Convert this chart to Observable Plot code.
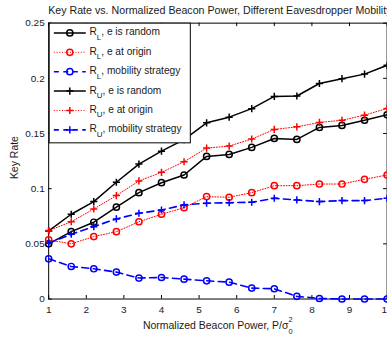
<!DOCTYPE html>
<html>
<head>
<meta charset="utf-8">
<script src="https://cdn.jsdelivr.net/npm/d3@7"></script>
<script src="https://cdn.jsdelivr.net/npm/@observablehq/plot@0.6"></script>
<style>
  html, body { margin: 0; padding: 0; background: white; overflow: hidden; }
  #chart { width: 387px; height: 337px; overflow: hidden; }
</style>
</head>
<body>
<div id="chart"></div>
<script>
// ---- data ----
const xValues = [1, 1.6, 2.2, 2.8, 3.4, 4, 4.6, 5.2, 5.8, 6.4, 7, 7.6, 8.2, 8.8, 9.4, 10];
const rlRandom   = [0.0500, 0.0611, 0.0696, 0.0832, 0.0964, 0.1054, 0.1124, 0.1292, 0.1310, 0.1374, 0.1455, 0.1446, 0.1555, 0.1573, 0.1620, 0.1670];
const rlOrigin   = [0.0536, 0.0500, 0.0566, 0.0610, 0.0700, 0.0768, 0.0828, 0.0928, 0.0922, 0.0964, 0.1027, 0.1027, 0.1042, 0.1042, 0.1085, 0.1124];
const rlMobility = [0.0364, 0.0295, 0.0274, 0.0244, 0.0190, 0.0195, 0.0180, 0.0165, 0.0153, 0.0099, 0.0093, 0.0024, 0.0005, 0.0000, 0.0000, 0.0000];
const ruRandom   = [0.0617, 0.0768, 0.0883, 0.1058, 0.1223, 0.1340, 0.1445, 0.1597, 0.1648, 0.1725, 0.1836, 0.1840, 0.1953, 0.1997, 0.2038, 0.2118];
const ruOrigin   = [0.0620, 0.0700, 0.0816, 0.0937, 0.1070, 0.1148, 0.1244, 0.1368, 0.1386, 0.1450, 0.1537, 0.1560, 0.1600, 0.1620, 0.1666, 0.1727];
const ruMobility = [0.0506, 0.0587, 0.0656, 0.0726, 0.0777, 0.0807, 0.0853, 0.0868, 0.0873, 0.0877, 0.0913, 0.0898, 0.0883, 0.0892, 0.0892, 0.0913];

const seriesKeys = ["RL, e is random", "RL, e at origin", "RL, mobility strategy", "RU, e is random", "RU, e at origin", "RU, mobility strategy"];
const seriesSub = ["L", "L", "L", "U", "U", "U"];
const seriesRest = [", e is random", ", e at origin", ", mobility strategy", ", e is random", ", e at origin", ", mobility strategy"];
const seriesValues = [rlRandom, rlOrigin, rlMobility, ruRandom, ruOrigin, ruMobility];

const xTicks = [1, 2, 3, 4, 5, 6, 7, 8, 9, 10];
const yTicks = [0, 0.05, 0.1, 0.15, 0.2, 0.25];

const titleText = "Key Rate vs. Normalized Beacon Power, Different Eavesdropper Mobility";
const xLabelText = "Normalized Beacon Power, P/σ";
const yLabelText = "Key Rate";

// ---- styles ----
const styles = [
  {stroke: "#000000", dash: null,    width: 1.5, marker: "circle"},
  {stroke: "#ff0000", dash: "1,1.7", width: 1,   marker: "circle"},
  {stroke: "#0000ff", dash: "7,4.5", width: 1.6, marker: "circle"},
  {stroke: "#000000", dash: null,    width: 1.5, marker: "plus"},
  {stroke: "#ff0000", dash: "1,1.7", width: 1,   marker: "plus"},
  {stroke: "#0000ff", dash: "7,4.5", width: 1.6, marker: "plus"}
];

const plusSymbol = {
  draw(ctx, size) {
    const r = Math.sqrt(size / Math.PI);
    ctx.moveTo(-r, 0); ctx.lineTo(r, 0);
    ctx.moveTo(0, -r); ctx.lineTo(0, r);
  }
};

const rows = [];
seriesKeys.forEach((k, i) => {
  xValues.forEach((x, j) => rows.push({series: k, x, y: seriesValues[i][j]}));
});

const W = 388, H = 337, mT = 22.7, mB = 37.7, mL = 48.3, mR = 0.4;
const frameH = H - mT - mB, frameW = W - mL - mR;
const tickLen = 3.5;
const FONT = "'Liberation Sans', Arial, Helvetica, sans-serif";

const dataMarks = [];
seriesKeys.forEach((k, i) => {
  const s = styles[i];
  const sub = rows.filter(d => d.series === k);
  dataMarks.push(Plot.line(sub, {x: "x", y: "y", stroke: s.stroke, strokeWidth: s.width, strokeDasharray: s.dash ?? undefined}));
  dataMarks.push(Plot.dot(sub, {
    x: "x", y: "y", stroke: s.stroke, fill: "none", strokeWidth: 1.5,
    r: s.marker === "plus" ? 3.6 : 3.1,
    symbol: s.marker === "plus" ? plusSymbol : "circle"
  }));
});

const chart = Plot.plot({
  width: W, height: H,
  marginTop: mT, marginBottom: mB, marginLeft: mL, marginRight: mR,
  x: {domain: [1, 10]},
  y: {domain: [0, 0.25]},
  style: {fontFamily: FONT, fontSize: "10px", color: "#1a1a1a", background: "white"},
  marks: [
    Plot.frame({stroke: "#000", strokeWidth: 1}),
    Plot.ruleX(xTicks, {x: d => d, insetTop: frameH - tickLen, stroke: "#000"}),
    Plot.ruleX(xTicks, {x: d => d, insetBottom: frameH - tickLen, stroke: "#000"}),
    Plot.ruleY(yTicks, {y: d => d, insetRight: frameW - tickLen, stroke: "#000"}),
    Plot.ruleY(yTicks, {y: d => d, insetLeft: frameW - tickLen, stroke: "#000"}),
    Plot.axisX({ticks: xTicks, tickSize: 0, tickPadding: 7, tickFormat: d => String(d), label: null}),
    Plot.axisY({ticks: yTicks, tickSize: 0, tickPadding: 4, tickFormat: d => String(d), label: null}),
    ...dataMarks
  ]
});

document.getElementById("chart").appendChild(chart);

// ---- title and labels ----
const svg = d3.select(chart);
svg.append("text")
  .attr("x", 48.3).attr("y", 14).attr("text-anchor", "start")
  .attr("font-family", FONT).attr("font-size", 10.7).attr("fill", "#1a1a1a")
  .text(titleText);

const xl = svg.append("text")
  .attr("x", 143.3).attr("y", 329.5).attr("text-anchor", "start")
  .attr("font-family", FONT).attr("font-size", 10.5).attr("fill", "#1a1a1a");
xl.append("tspan").text(xLabelText);
xl.append("tspan").attr("font-size", 7.5).attr("dy", -6.2).text("2");
xl.append("tspan").attr("font-size", 7.5).attr("dx", -4.2).attr("dy", 11.7).text("0");

svg.append("text")
  .attr("transform", "translate(18,158) rotate(-90)")
  .attr("text-anchor", "middle")
  .attr("font-family", FONT).attr("font-size", 10.5).attr("fill", "#1a1a1a")
  .text(yLabelText);

// ---- legend ----
const lg = svg.append("g").attr("text-anchor", "start");
lg.append("rect")
  .attr("x", 49.3).attr("y", 23.2).attr("width", 141.5).attr("height", 120)
  .attr("fill", "white").attr("stroke", "#000").attr("stroke-width", 1);
seriesKeys.forEach((k, i) => {
  const s = styles[i];
  const cy = 33 + i * 19.45;
  lg.append("line")
    .attr("x1", 54).attr("x2", 86).attr("y1", cy).attr("y2", cy)
    .attr("stroke", s.stroke).attr("stroke-width", s.width)
    .attr("stroke-dasharray", s.dash ? (s.dash === "7,4.5" ? "5,4.5" : s.dash) : null);
  if (s.marker === "circle") {
    lg.append("circle").attr("cx", 70).attr("cy", cy).attr("r", 3.1)
      .attr("fill", "none").attr("stroke", s.stroke).attr("stroke-width", 1.5);
  } else {
    lg.append("path").attr("d", `M66.4,${cy}H73.6M70,${cy - 3.6}V${cy + 3.6}`)
      .attr("fill", "none").attr("stroke", s.stroke).attr("stroke-width", 1.5);
  }
  const t = lg.append("text")
    .attr("x", 89.7).attr("y", cy + 2.5).attr("text-anchor", "start")
    .attr("font-family", FONT).attr("font-size", 10.2).attr("fill", "#1a1a1a");
  t.append("tspan").text("R");
  t.append("tspan").attr("font-size", 8).attr("dy", 4.5).text(seriesSub[i]);
  t.append("tspan").attr("dy", -4.5).text(seriesRest[i]);
});
</script>
</body>
</html>
